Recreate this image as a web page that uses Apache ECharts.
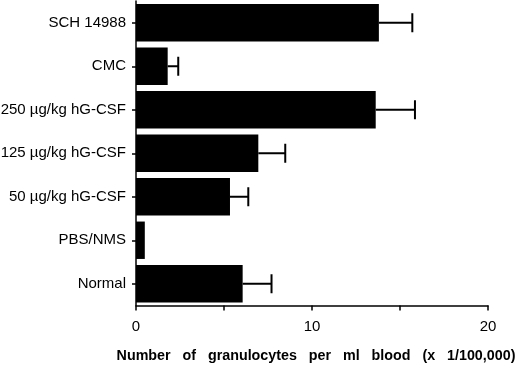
<!DOCTYPE html>
<html>
<head>
<meta charset="utf-8">
<script src="https://cdn.jsdelivr.net/npm/echarts@6/dist/echarts.min.js"></script>
<style>
  html, body { margin: 0; padding: 0; background: #fff; }
  #box1 { width: 520px; height: 365px; }
</style>
</head>
<body>
<div id="box1"></div>
<script>
// groups, top to bottom
var groups = ['SCH 14988', 'CMC', '250 \u00b5g/kg hG-CSF', '125 \u00b5g/kg hG-CSF', '50 \u00b5g/kg hG-CSF', 'PBS/NMS', 'Normal'];
// mean granulocytes (x 1/100,000)
var means = [13.8, 1.8, 13.62, 6.95, 5.34, 0.5, 6.06];
// upper error (added to mean)
var errs = [1.9, 0.6, 2.23, 1.53, 1.04, 0, 1.64];
var xTicks = [0, 10, 20];

var font = '"Liberation Sans", Arial, Helvetica, sans-serif';

var myChart = echarts.init(document.getElementById('box1'));

var errData = [];
for (var i = 0; i < groups.length; i++) {
    errData.push([means[i], i, means[i] + errs[i]]);
}

var option = {
    animation: false,
    backgroundColor: '#fff',
    grid: {left: 136, right: 32, top: 1, bottom: 59.5, containLabel: false, outerBoundsMode: 'none'},
    xAxis: {
        type: 'value',
        min: 0,
        max: 20,
        interval: 5,
        name: 'Number   of   granulocytes   per   ml   blood   (x   1/100,000)',
        nameLocation: 'middle',
        nameGap: 44,
        nameTextStyle: {
            color: '#000',
            fontFamily: font,
            fontWeight: 'bold',
            fontSize: 14.3,
            padding: [0, 0, 0, 8]
        },
        axisLine: {show: true, lineStyle: {color: '#000', width: 1.5}},
        axisTick: {show: true, length: 5, lineStyle: {color: '#000', width: 1.5}},
        splitLine: {show: false},
        axisLabel: {
            margin: 14,
            color: '#000',
            fontFamily: font,
            fontSize: 15,
            formatter: function (v) {
                return xTicks.indexOf(v) >= 0 ? String(v) : '';
            }
        }
    },
    yAxis: {
        type: 'category',
        inverse: true,
        data: groups,
        axisLine: {show: true, lineStyle: {color: '#000', width: 1.5}},
        axisTick: {show: true, alignWithLabel: true, length: 4, lineStyle: {color: '#000', width: 1.5}},
        axisLabel: {
            margin: 10,
            color: '#000',
            fontFamily: font,
            fontSize: 15
        }
    },
    series: [
        {
            type: 'bar',
            data: means,
            barWidth: '86%',
            itemStyle: {color: '#000'},
            z: 2
        },
        {
            type: 'custom',
            data: errData,
            z: 3,
            renderItem: function (params, api) {
                var y = api.value(1);
                if (api.value(2) <= api.value(0)) return;
                var p0 = api.coord([api.value(0), y]);
                var p1 = api.coord([api.value(2), y]);
                var h = 9.5;
                return {
                    type: 'group',
                    children: [
                        {
                            type: 'line',
                            shape: {x1: p0[0], y1: p0[1], x2: p1[0], y2: p1[1]},
                            style: {stroke: '#000', lineWidth: 2}
                        },
                        {
                            type: 'line',
                            shape: {x1: p1[0], y1: p1[1] - h, x2: p1[0], y2: p1[1] + h},
                            style: {stroke: '#000', lineWidth: 2}
                        }
                    ]
                };
            }
        }
    ]
};

myChart.setOption(option);
</script>
</body>
</html>
